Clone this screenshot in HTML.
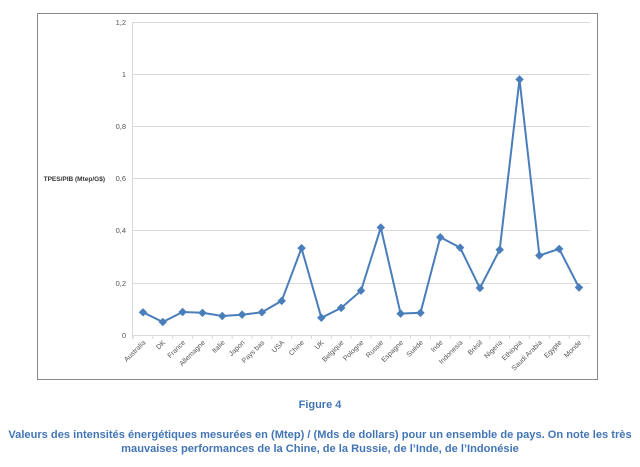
<!DOCTYPE html>
<html><head><meta charset="utf-8"><style>
body{margin:0;background:#fff;width:640px;height:467px;overflow:hidden;font-family:"Liberation Sans",sans-serif}
.cap{position:absolute;left:0;width:640px;text-align:center;color:#4275b5;font-weight:bold}
</style></head><body>
<svg width="640" height="390" style="position:absolute;left:0;top:0" font-family="Liberation Sans, sans-serif">
<rect x="37.5" y="13.5" width="560" height="366" fill="#fff" stroke="#888" stroke-width="1"/>
<g stroke="#d9d9d9" stroke-width="1">
<line x1="132" x2="590" y1="22.5" y2="22.5"/><line x1="132" x2="590" y1="74.5" y2="74.5"/>
<line x1="132" x2="590" y1="126.5" y2="126.5"/><line x1="132" x2="590" y1="178.5" y2="178.5"/>
<line x1="132" x2="590" y1="230.5" y2="230.5"/><line x1="132" x2="590" y1="283.5" y2="283.5"/>
<line x1="132" x2="590" y1="335.5" y2="335.5"/><line x1="132.5" x2="132.5" y1="22" y2="339"/>
</g>
<g font-size="7.5" fill="#555" text-anchor="end">
<text x="126" y="25">1,2</text><text x="126" y="77">1</text><text x="126" y="129">0,8</text>
<text x="126" y="181">0,6</text><text x="126" y="233">0,4</text><text x="126" y="286">0,2</text><text x="126" y="338">0</text>
<text x="105" y="181" font-weight="bold" fill="#333" font-size="6.5">TPES/PIB (Mtep/G$)</text>
</g>
<g id="lbl" font-size="7" fill="#555" text-anchor="end"></g>
<polyline id="ln" fill="none" stroke="#4a7ebb" stroke-width="2"/>
<g id="mk" fill="#4a7ebb"></g>
</svg>
<div class="cap" style="top:399px;font-size:11px">Figure 4</div>
<div class="cap" style="top:428px;font-size:11.1px;line-height:14px">Valeurs des intensités énergétiques mesurées en (Mtep) / (Mds de dollars) pour un ensemble de pays. On note les très<br>mauvaises performances de la Chine, de la Russie, de l’Inde, de l’Indonésie</div>
<script>
var n=["Australia","DK","France","Allemagne","Italie","Japon","Pays bas","USA","Chine","UK","Belgique","Pologne","Russie","Espagne","Suède","Inde","Indonesia","Brésil","Nigeria","Ethiopia","Saudi Arabia","Egypte","Monde"];
var v=[0.087,0.05,0.088,0.085,0.073,0.078,0.087,0.131,0.333,0.066,0.104,0.17,0.412,0.082,0.085,0.375,0.335,0.18,0.327,0.98,0.305,0.33,0.182];
var dx=(579-143)/22,p=[],m="",l="",t="";
for(var i=0;i<n.length;i++){var x=143+dx*i,y=335-v[i]*260.8;p.push(x.toFixed(1)+","+y.toFixed(1));
m+='<rect x="'+(x-3)+'" y="'+(y-3)+'" width="6" height="6" transform="rotate(45 '+x+' '+y+')"/>';
l+='<text transform="translate('+(x+3)+',343) rotate(-45)">'+n[i]+'</text>';
var tx=(x-dx/2).toFixed(1);t+='<line x1="'+tx+'" x2="'+tx+'" y1="335" y2="339" stroke="#d9d9d9"/>';}
t+='<line x1="'+(143+dx*22.5).toFixed(1)+'" x2="'+(143+dx*22.5).toFixed(1)+'" y1="335" y2="339" stroke="#d9d9d9"/>';
document.getElementById("ln").setAttribute("points",p.join(" "));
document.getElementById("mk").innerHTML=m;
document.getElementById("lbl").innerHTML=l+t;
</script>
</body></html>
